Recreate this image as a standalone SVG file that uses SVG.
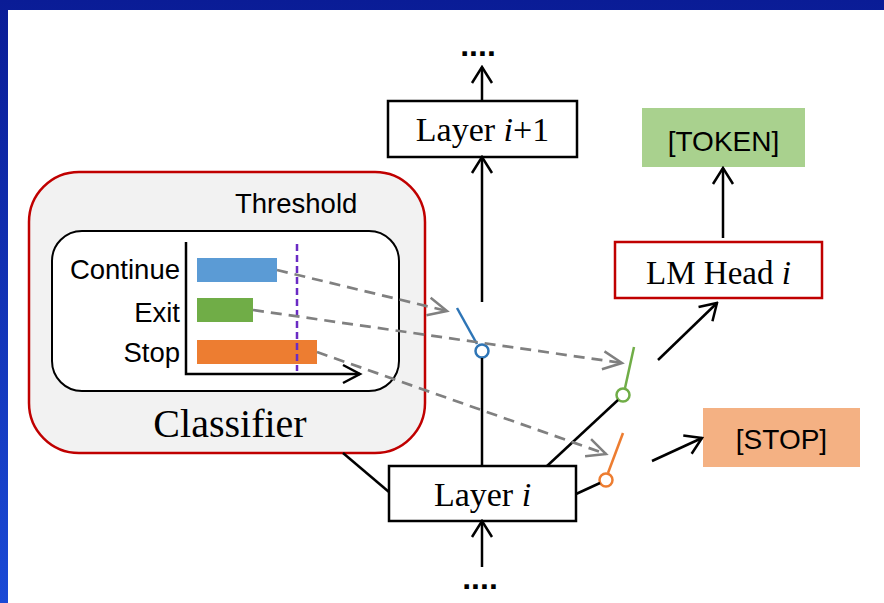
<svg xmlns="http://www.w3.org/2000/svg" width="884" height="603" viewBox="0 0 884 603">
  <defs>
    <linearGradient id="frameGrad" x1="0" y1="0" x2="0" y2="1">
      <stop offset="0" stop-color="#0a1c96"/>
      <stop offset="1" stop-color="#1a4ad6"/>
    </linearGradient>
    <marker id="headBlack" viewBox="0 0 20 24" refX="18" refY="12" markerWidth="20" markerHeight="24" markerUnits="userSpaceOnUse" orient="auto">
      <path d="M2,2 L18,12 L2,22" fill="none" stroke="#000" stroke-width="2.5"/>
    </marker>
    <marker id="headGray" viewBox="0 0 24 24" refX="21" refY="12" markerWidth="24" markerHeight="24" markerUnits="userSpaceOnUse" orient="auto">
      <path d="M2,3 L21,12 L2,21" fill="none" stroke="#808080" stroke-width="2.5" stroke-dasharray="none"/>
    </marker>
  </defs>
  <style>
    .box{fill:#fff;stroke:#000;stroke-width:2.5}
    .serif{font-family:"Liberation Serif","Times New Roman",serif;fill:#000}
    .sans{font-family:"Liberation Sans",Arial,sans-serif;fill:#000}
    .wire{stroke:#000;stroke-width:2.5;fill:none}
    .dash{stroke:#808080;stroke-width:2.7;stroke-dasharray:11 7;fill:none}
    .blade{stroke-width:2.5;fill:none}
    .pivot{fill:#fff;stroke-width:2.5}
  </style>

  <!-- slide frame -->
  <rect x="0" y="0" width="884" height="603" fill="url(#frameGrad)"/>
  <rect x="8" y="10" width="876" height="593" fill="#fff"/>

  <!-- classifier with bar chart -->
  <g id="classifier">
    <rect x="29" y="172" width="396" height="281" rx="50" fill="#f2f2f2" stroke="#c00000" stroke-width="2.5"/>
    <text class="sans" x="235" y="213" font-size="27.5">Threshold</text>
    <rect x="52" y="231" width="347" height="160" rx="30" fill="#fff" stroke="#000" stroke-width="2"/>
    <g class="sans" font-size="27.5" text-anchor="end">
      <text x="180" y="279">Continue</text>
      <text x="180" y="322">Exit</text>
      <text x="180" y="362">Stop</text>
    </g>
    <rect x="197" y="258" width="80" height="24" fill="#5b9bd5"/>
    <rect x="197" y="298" width="56" height="24" fill="#70ad47"/>
    <rect x="197" y="340" width="120" height="24" fill="#ed7d31"/>
    <line x1="297" y1="244" x2="297" y2="371" stroke="#6a2bc4" stroke-width="2.5" stroke-dasharray="7 4"/>
    <path d="M186,242 V374 H360" class="wire"/>
    <path d="M343,365 L360,374 L343,383" class="wire"/>
    <text class="serif" x="230" y="437" font-size="40" text-anchor="middle">Classifier</text>
  </g>

  <!-- layers and outputs -->
  <g id="dots-top">
    <text class="sans" x="478" y="56" font-size="32" font-weight="bold" text-anchor="middle">....</text>
  </g>
  <g id="layer-next">
    <rect class="box" x="388" y="101" width="189" height="56"/>
    <text class="serif" x="482.5" y="141" font-size="34" text-anchor="middle">Layer <tspan font-style="italic">i</tspan>+1</text>
  </g>
  <g id="layer-i">
    <rect class="box" x="389" y="466" width="187" height="55"/>
    <text class="serif" x="482.5" y="506" font-size="34" text-anchor="middle">Layer <tspan font-style="italic">i</tspan></text>
  </g>
  <g id="dots-bottom">
    <text class="sans" x="480" y="589" font-size="32" font-weight="bold" text-anchor="middle">....</text>
  </g>
  <g id="lm-head">
    <rect x="615" y="242" width="207" height="56" fill="#fff" stroke="#c00000" stroke-width="2.5"/>
    <text class="serif" x="718.5" y="284" font-size="33" text-anchor="middle">LM Head <tspan font-style="italic">i</tspan></text>
  </g>
  <g id="token">
    <rect x="642" y="108" width="163" height="59" fill="#a9d18e"/>
    <text class="sans" x="723.5" y="151" font-size="28" text-anchor="middle">[TOKEN]</text>
  </g>
  <g id="stop">
    <rect x="703" y="408" width="157" height="59" fill="#f4b183"/>
    <text class="sans" x="781.5" y="449" font-size="28" text-anchor="middle">[STOP]</text>
  </g>

  <!-- routing switches -->
  <g id="switch-continue">
    <line class="blade" x1="477" y1="344" x2="457" y2="308" stroke="#2e75b6"/>
    <circle class="pivot" cx="482" cy="351" r="6.5" stroke="#2e75b6"/>
  </g>
  <g id="switch-exit">
    <line class="blade" x1="625" y1="388" x2="634" y2="347" stroke="#70ad47"/>
    <circle class="pivot" cx="623" cy="395" r="6.5" stroke="#70ad47"/>
  </g>
  <g id="switch-stop">
    <line class="blade" x1="608" y1="473" x2="623" y2="433" stroke="#ed7d31"/>
    <circle class="pivot" cx="606" cy="480" r="6.5" stroke="#ed7d31"/>
  </g>

  <!-- connectors -->
  <g id="connectors">
    <line class="wire" x1="482" y1="567" x2="482" y2="521" marker-end="url(#headBlack)"/>
    <line class="wire" x1="482" y1="358" x2="482" y2="466"/>
    <line class="wire" x1="482" y1="302" x2="482" y2="157" marker-end="url(#headBlack)"/>
    <line class="wire" x1="482" y1="101" x2="482" y2="67" marker-end="url(#headBlack)"/>
    <line class="wire" x1="547" y1="466" x2="618" y2="400"/>
    <line class="wire" x1="576" y1="494" x2="600" y2="483"/>
    <line class="wire" x1="343" y1="453" x2="389" y2="492"/>
    <line class="wire" x1="658" y1="360" x2="717" y2="303" marker-end="url(#headBlack)"/>
    <line class="wire" x1="652" y1="461" x2="702" y2="438" marker-end="url(#headBlack)"/>
    <line class="wire" x1="723" y1="238" x2="723" y2="168" marker-end="url(#headBlack)"/>
    <line class="dash" x1="277" y1="270" x2="447" y2="311" marker-end="url(#headGray)"/>
    <line class="dash" x1="253" y1="310" x2="622" y2="363" marker-end="url(#headGray)"/>
    <line class="dash" x1="317" y1="352" x2="606" y2="454" marker-end="url(#headGray)"/>
  </g>
</svg>
